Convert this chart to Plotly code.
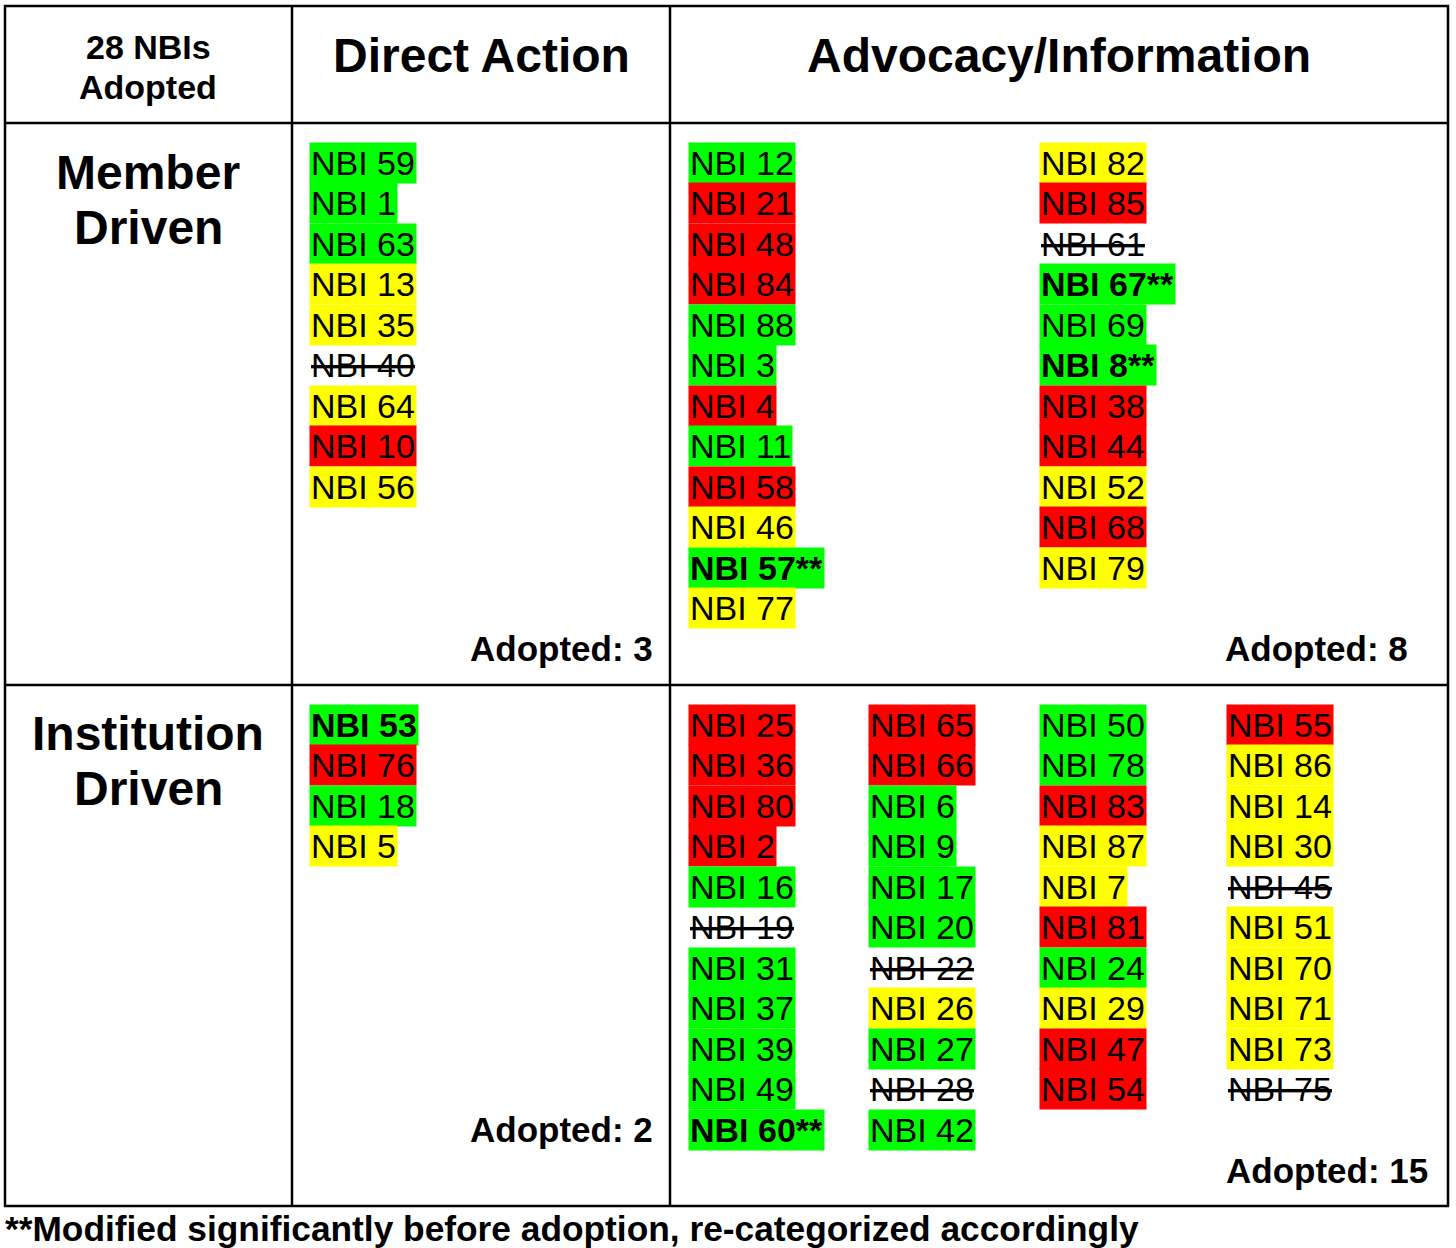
import plotly.graph_objects as go

# status codes: G = adopted (green), Y = yellow, R = red, X = withdrawn (struck through)
member_direct = ["NBI 59", "NBI 1", "NBI 63", "NBI 13", "NBI 35", "NBI 40", "NBI 64", "NBI 10", "NBI 56"]
member_direct_status = ["G", "G", "G", "Y", "Y", "X", "Y", "R", "Y"]

member_adv_1 = ["NBI 12", "NBI 21", "NBI 48", "NBI 84", "NBI 88", "NBI 3", "NBI 4", "NBI 11",
                "NBI 58", "NBI 46", "NBI 57**", "NBI 77"]
member_adv_1_status = ["G", "R", "R", "R", "G", "G", "R", "G", "R", "Y", "G", "Y"]

member_adv_2 = ["NBI 82", "NBI 85", "NBI 61", "NBI 67**", "NBI 69", "NBI 8**", "NBI 38", "NBI 44",
                "NBI 52", "NBI 68", "NBI 79"]
member_adv_2_status = ["Y", "R", "X", "G", "G", "G", "R", "R", "Y", "R", "Y"]

inst_direct = ["NBI 53", "NBI 76", "NBI 18", "NBI 5"]
inst_direct_status = ["G", "R", "G", "Y"]

inst_adv_1 = ["NBI 25", "NBI 36", "NBI 80", "NBI 2", "NBI 16", "NBI 19", "NBI 31", "NBI 37",
              "NBI 39", "NBI 49", "NBI 60**"]
inst_adv_1_status = ["R", "R", "R", "R", "G", "X", "G", "G", "G", "G", "G"]

inst_adv_2 = ["NBI 65", "NBI 66", "NBI 6", "NBI 9", "NBI 17", "NBI 20", "NBI 22", "NBI 26",
              "NBI 27", "NBI 28", "NBI 42"]
inst_adv_2_status = ["R", "R", "G", "G", "G", "G", "X", "Y", "G", "X", "G"]

inst_adv_3 = ["NBI 50", "NBI 78", "NBI 83", "NBI 87", "NBI 7", "NBI 81", "NBI 24", "NBI 29",
              "NBI 47", "NBI 54"]
inst_adv_3_status = ["G", "G", "R", "Y", "Y", "R", "G", "Y", "R", "R"]

inst_adv_4 = ["NBI 55", "NBI 86", "NBI 14", "NBI 30", "NBI 45", "NBI 51", "NBI 70", "NBI 71",
              "NBI 73", "NBI 75"]
inst_adv_4_status = ["R", "Y", "Y", "Y", "X", "Y", "Y", "Y", "Y", "X"]

bold_labels = ["NBI 57**", "NBI 67**", "NBI 8**", "NBI 53", "NBI 60**"]

col_headers = ["Direct Action", "Advocacy/Information"]
row_headers = [["Member", "Driven"], ["Institution", "Driven"]]
corner_header = ["28 NBIs", "Adopted"]
footnote = "**Modified significantly before adoption, re-categorized accordingly"

colors = {"G": "#00ff00", "Y": "#ffff00", "R": "#ff0000", "X": "rgba(0,0,0,0)"}

FONT = "Liberation Sans, Arial, sans-serif"
W, H = 1456, 1248
left, right, top, bottom = 5, 1448, 6, 1206
vx = [292, 670]
hy = [123, 685]
pitch = 40.45

fig = go.Figure()
fig.add_trace(go.Scatter(x=[0, W], y=[0, H], mode="markers", marker=dict(opacity=0),
                         hoverinfo="skip", showlegend=False))

# table lines
lw = 2.5
fig.add_shape(type="rect", x0=left, x1=right, y0=top, y1=bottom, line=dict(color="black", width=lw))
for x in vx:
    fig.add_shape(type="line", x0=x, x1=x, y0=top, y1=bottom, line=dict(color="black", width=lw))
for y in hy:
    fig.add_shape(type="line", x0=left, x1=right, y0=y, y1=y, line=dict(color="black", width=lw))


def add_column(labels, status, x0, y0):
    for i, (lab, st) in enumerate(zip(labels, status)):
        txt = lab
        if lab in bold_labels:
            txt = "<b>" + txt + "</b>"
        if st == "X":
            txt = "<s>" + txt + "</s>"
        fig.add_annotation(x=x0, y=y0 + i * pitch, text=txt, showarrow=False,
                           xanchor="left", yanchor="middle", bgcolor=colors[st],
                           borderpad=1, font=dict(family=FONT, size=34, color="black"))


def adopted(*status_lists):
    return sum(s.count("G") for s in status_lists)


add_column(member_direct, member_direct_status, 309, 163)
add_column(member_adv_1, member_adv_1_status, 688, 163)
add_column(member_adv_2, member_adv_2_status, 1039, 163)
add_column(inst_direct, inst_direct_status, 309, 725)
add_column(inst_adv_1, inst_adv_1_status, 688, 725)
add_column(inst_adv_2, inst_adv_2_status, 868, 725)
add_column(inst_adv_3, inst_adv_3_status, 1039, 725)
add_column(inst_adv_4, inst_adv_4_status, 1226, 725)

counts = [
    (adopted(member_direct_status), 655, 648),
    (adopted(member_adv_1_status, member_adv_2_status), 1410, 648),
    (adopted(inst_direct_status), 655, 1129),
    (adopted(inst_adv_1_status, inst_adv_2_status, inst_adv_3_status, inst_adv_4_status), 1430, 1170),
]
for n, x, y in counts:
    fig.add_annotation(x=x, y=y, text=f"<b>Adopted: {n}</b>", showarrow=False,
                       xanchor="right", yanchor="middle",
                       font=dict(family=FONT, size=35, color="black"))

# headers
for line, y in zip(corner_header, [47, 87]):
    fig.add_annotation(x=148, y=y, text=f"<b>{line}</b>", showarrow=False,
                       xanchor="center", yanchor="middle",
                       font=dict(family=FONT, size=34, color="black"))
for head, x in zip(col_headers, [481, 1059]):
    fig.add_annotation(x=x, y=55, text=f"<b>{head}</b>", showarrow=False,
                       xanchor="center", yanchor="middle",
                       font=dict(family=FONT, size=48, color="black"))
for lines, y0 in zip(row_headers, [172, 733]):
    for j, line in enumerate(lines):
        fig.add_annotation(x=148, y=y0 + j * 55, text=f"<b>{line}</b>", showarrow=False,
                           xanchor="center", yanchor="middle",
                           font=dict(family=FONT, size=48, color="black"))

fig.add_annotation(x=3, y=1228, text=f"<b>{footnote}</b>", showarrow=False,
                   xanchor="left", yanchor="middle",
                   font=dict(family=FONT, size=35.3, color="black"))

fig.update_xaxes(range=[0, W], visible=False, fixedrange=True)
fig.update_yaxes(range=[H, 0], visible=False, fixedrange=True)
fig.update_layout(width=W, height=H, margin=dict(l=0, r=0, t=0, b=0),
                  plot_bgcolor="white", paper_bgcolor="white", showlegend=False)

# drop the default page margin so the figure sits at the window's corner
fig.write_html("out.html", config={"displayModeBar": False},
               post_script="document.body.style.margin = '0px';")
